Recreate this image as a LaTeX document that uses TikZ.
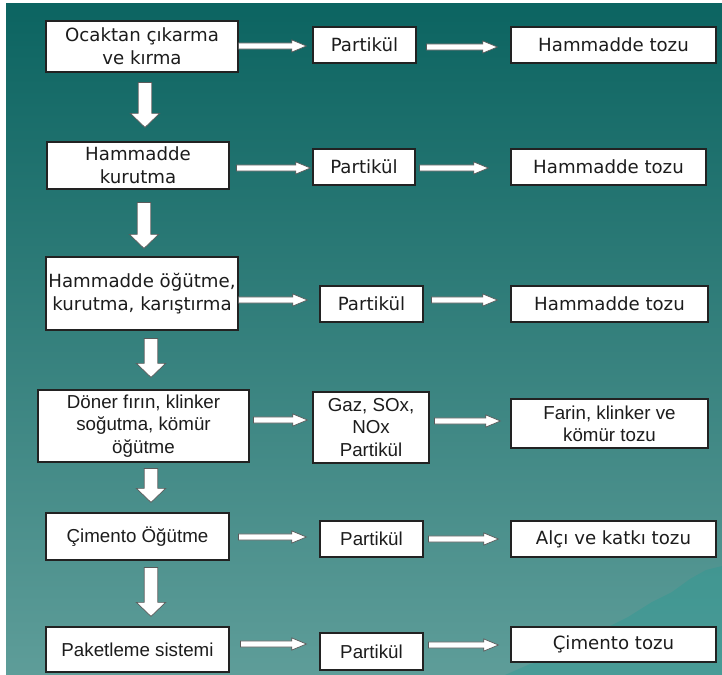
\documentclass[tikz,border=0pt]{standalone}
\usepackage{fontspec}
\setmainfont{DejaVu Sans}
\newfontfamily\arialfont{Liberation Sans}
\usepackage{tikz}
\usetikzlibrary{calc}
\definecolor{CTealTop}{HTML}{0C6461}
\definecolor{CTealBot}{HTML}{5E9D99}
\definecolor{CHill}{HTML}{2A9A94}
\definecolor{CEdge}{HTML}{222222}
\definecolor{CInk}{HTML}{1C1C1C}
\definecolor{CArrow}{HTML}{5A5A5A}
\newcommand\pxu{0.03cm}

\begin{document}
\begin{tikzpicture}[
  x=0.03cm, y=-0.03cm, % one unit = one pixel, y grows downwards
  font=\fontsize{15.5}{20}\selectfont,
  box/.style={rectangle, draw=CEdge, line width=1pt, fill=white, text=CInk,
              align=center, inner sep=1pt},
  abox/.style={box, font=\arialfont\fontsize{16}{19}\selectfont},
  sz/.style 2 args={minimum width=#1*\pxu, minimum height=#2*\pxu},
  harr/.style={draw=CArrow, line width=0.6pt, fill=white,
    to path={let \p1=(\tikztostart), \p2=(\tikztotarget) in
      (\x1,\y1+2.6pt) -- (\x2-12.5pt,\y1+2.6pt) -- (\x2-12.5pt,\y1+5.2pt)
      -- (\x2,\y1) -- (\x2-12.5pt,\y1-5.2pt) -- (\x2-12.5pt,\y1-2.6pt)
      -- (\x1,\y1-2.6pt) -- cycle}},
  varr/.style={draw=CArrow, line width=0.6pt, fill=white,
    to path={let \p1=(\tikztostart), \p2=(\tikztotarget) in
      (\x1-5.8pt,\y1) -- (\x1-5.8pt,\y2+12pt) -- (\x1-12.5pt,\y2+12pt)
      -- (\x1,\y2) -- (\x1+12.5pt,\y2+12pt) -- (\x1+5.8pt,\y2+12pt)
      -- (\x1+5.8pt,\y1) -- cycle}},
]
\useasboundingbox (0,0) rectangle (722,675);

% --- slide background ---
\shade[top color=CTealTop, bottom color=CTealBot] (6,4) rectangle (722,675);
\fill[CHill, opacity=0.4]
  (505,675) -- (530,664) -- (548,660) -- (565,651) -- (585,643) -- (602,630)
  -- (628,617) -- (652,602) -- (672,592) -- (690,579) -- (706,570) -- (722,566)
  -- (722,675) -- cycle;

% --- process steps (left column) ---
\node[box, sz={192}{51}] (ocak) at (142,46.5) {Ocaktan çıkarma\\ve kırma};
\node[box, sz={182}{47}] (kurut) at (138,165.5) {Hammadde\\kurutma};
\node[box, sz={192}{73}] (ogut) at (142,293.5) {Hammadde öğütme,\\kurutma, karıştırma};
\node[abox, sz={211}{72}] (firin) at (143.5,426) {Döner fırın, klinker\\soğutma, kömür\\öğütme};
\node[abox, sz={183}{47}] (cimog) at (137.5,536.5) {Çimento Öğütme};
\node[abox, sz={183}{45}] (paket) at (137.5,649.5) {Paketleme sistemi};

% --- emissions (middle column) ---
\node[box, sz={103}{36}] (em1) at (364.5,45) {Partikül};
\node[box, sz={102}{36}] (em2) at (364,167) {Partikül};
\node[box, sz={103}{36}] (em3) at (371.5,304) {Partikül};
\node[abox, sz={116}{71}] (em4) at (371,427.5) {Gaz, SOx,\\NOx\\Partikül};
\node[abox, sz={103}{36}] (em5) at (371.5,539) {Partikül};
\node[abox, sz={103}{37}] (em6) at (371.5,651.5) {Partikül};

% --- dust sources (right column) ---
\node[box, sz={205}{36}] (toz1) at (613.5,45) {Hammadde tozu};
\node[box, sz={195}{36}] (toz2) at (608.5,167) {Hammadde tozu};
\node[box, sz={197}{36}] (toz3) at (609.5,304) {Hammadde tozu};
\node[abox, sz={197}{49}] (toz4) at (609.5,423.5) {Farin, klinker ve\\kömür tozu};
\node[box, sz={205}{36}] (toz5) at (613.5,539) {Alçı ve katkı tozu};
\node[box, sz={205}{35}] (toz6) at (613.5,644.5) {Çimento tozu};

% --- process flow ---
\draw[varr] ($(ocak.south)+(3,10)$) to ($(kurut.north)+(0,-14)$);
\draw[varr] ($(kurut.south)+(6,13)$) to ($(ogut.north)+(0,-8)$);
\draw[varr] ($(ogut.south)+(9,8)$) to ($(firin.north)+(0,-12)$);
\draw[varr] ($(firin.south)+(7.5,6)$) to ($(cimog.north)+(0,-10)$);
\draw[varr] ($(cimog.south)+(13.5,7)$) to ($(paket.north)+(0,-10)$);

% --- step -> emission -> dust ---
\draw[harr] ($(ocak.east)+(0,-0.5)$) to ($(em1.west)+(-6,0)$);
\draw[harr] ($(em1.east)+(10,2)$) to ($(toz1.west)+(-13,0)$);
\draw[harr] ($(kurut.east)+(7,2.5)$) to ($(em2.west)+(-2,0)$);
\draw[harr] ($(em2.east)+(4,1)$) to ($(toz2.west)+(-22,0)$);
\draw[harr] ($(ogut.east)+(0,6.5)$) to ($(em3.west)+(-12,0)$);
\draw[harr] ($(em3.east)+(8,-4)$) to ($(toz3.west)+(-13,0)$);
\draw[harr] ($(firin.east)+(4,-6)$) to ($(em4.west)+(-5,0)$);
\draw[harr] ($(em4.east)+(5,-6.5)$) to ($(toz4.west)+(-10,0)$);
\draw[harr] ($(cimog.east)+(9,0.5)$) to ($(em5.west)+(-13,0)$);
\draw[harr] ($(em5.east)+(5,0)$) to ($(toz5.west)+(-12,0)$);
\draw[harr] ($(paket.east)+(11,-5.5)$) to ($(em6.west)+(-13,0)$);
\draw[harr] ($(em6.east)+(5,-6.5)$) to ($(toz6.west)+(-12,0)$);

\end{tikzpicture}
\end{document}
